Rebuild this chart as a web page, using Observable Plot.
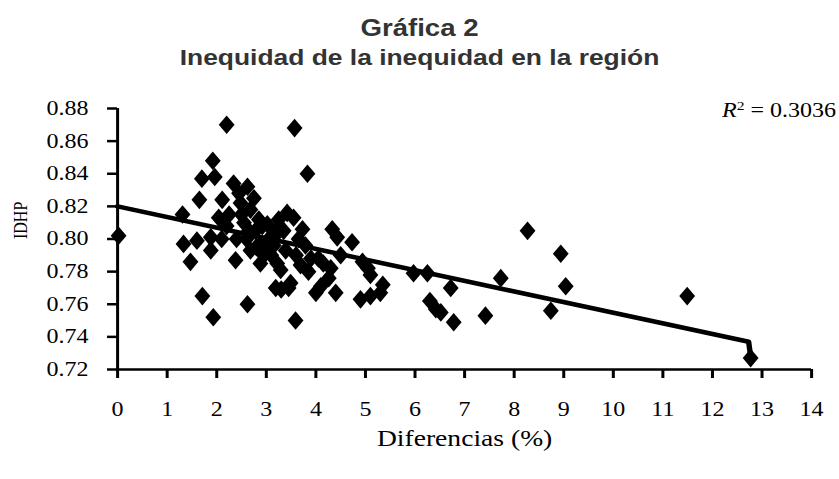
<!DOCTYPE html>
<html>
<head>
<meta charset="utf-8">
<script src="https://cdn.jsdelivr.net/npm/d3@7"></script>
<script src="https://cdn.jsdelivr.net/npm/@observablehq/plot@0.6"></script>
<style>
  html, body { margin: 0; padding: 0; background: #fff; }
  #wrap { position: relative; width: 839px; height: 479px; overflow: hidden; }
  #title { width: 839px; height: 80px; box-sizing: border-box; padding-top: 13px;
    font-family: "Liberation Sans", Arial, sans-serif; font-weight: bold; font-size: 22px;
    color: #333; text-align: center; }
  #title div { line-height: 30px; transform: scaleX(1.2); transform-origin: center; }
  #title div:first-child { font-size: 23px; }
  #chart svg, #chart svg text, #chart svg g { font-family: "Liberation Serif", "Times New Roman", serif !important; }
  #r2 { position: absolute; right: 3px; top: 98px; font-family: "Liberation Serif", serif;
    font-size: 20px; line-height: 24px; color: #000; transform: scaleX(1.2); transform-origin: right center; white-space: nowrap; }
  #r2 .sup { font-size: 13px; position: relative; top: -7px; }
</style>
</head>
<body>
<div id="wrap">
  <div id="title"><div></div><div></div></div>
  <div id="chart"></div>
  <div id="r2"></div>
</div>
<script>
// ---- data ----
const titleLine1 = "Gráfica 2";
const titleLine2 = "Inequidad de la inequidad en la región";
const xLabel = "Diferencias (%)";
const yLabel = "IDHP";
const rSquared = "0.3036";

const xTicks = [0, 1, 2, 3, 4, 5, 6, 7, 8, 9, 10, 11, 12, 13, 14];
const yTicks = [0.72, 0.74, 0.76, 0.78, 0.80, 0.82, 0.84, 0.86, 0.88];

const diffX = [
  0.02,
  1.31, 1.33, 1.47, 1.60, 1.65, 1.70, 1.71, 1.88, 1.88, 1.92, 1.93, 1.96, 2.04, 2.11, 2.20, 2.10, 2.20, 2.25,
  2.34, 2.38, 2.45, 2.48, 2.55, 2.60, 2.62, 2.62, 2.68, 2.68, 2.75, 2.78, 2.85, 2.88, 2.90, 2.95,
  2.50, 2.65, 2.80, 2.40, 3.00, 2.92, 3.20,
  3.02, 3.05, 3.10, 3.15, 3.15, 3.19, 3.22, 3.25, 3.29, 3.30, 3.35, 3.39, 3.42, 3.45, 3.49, 3.55,
  3.57, 3.59, 3.60, 3.65, 3.69, 3.73, 3.79, 3.83, 3.85, 3.90,
  4.00, 4.05, 4.10, 4.15, 4.26, 4.30, 4.33, 4.40, 4.43, 4.50, 4.73, 4.90, 4.94,
  5.05, 5.10, 5.10, 5.30, 5.35, 5.97, 6.25, 6.30, 6.42, 6.52, 6.72, 6.78,
  7.42, 7.73, 8.27, 8.74, 8.94, 9.04, 11.49, 12.77
];
const idhpY = [
  0.802,
  0.815, 0.797, 0.786, 0.799, 0.824, 0.837, 0.765, 0.801, 0.793, 0.848, 0.752, 0.838, 0.813, 0.824, 0.870, 0.800, 0.808, 0.815,
  0.834, 0.787, 0.828, 0.822, 0.810, 0.800, 0.832, 0.760, 0.818, 0.793, 0.825, 0.805, 0.812, 0.785, 0.797, 0.790,
  0.815, 0.805, 0.795, 0.800, 0.795, 0.808, 0.805,
  0.809, 0.800, 0.790, 0.801, 0.796, 0.770, 0.785, 0.812, 0.781, 0.769, 0.805, 0.793, 0.816, 0.770, 0.773, 0.813,
  0.868, 0.750, 0.790, 0.800, 0.784, 0.806, 0.796, 0.840, 0.780, 0.788,
  0.767, 0.788, 0.771, 0.785, 0.776, 0.782, 0.806, 0.767, 0.801, 0.790, 0.798, 0.763, 0.786,
  0.782, 0.778, 0.765, 0.767, 0.772, 0.779, 0.779, 0.762, 0.757, 0.755, 0.770, 0.749,
  0.753, 0.776, 0.805, 0.756, 0.791, 0.771, 0.765, 0.727
];

// trend line as drawn in the reference
const trendX = [0, 12.73, 12.77];
const trendY = [0.820, 0.737, 0.728];

// ---- build ----
const points = diffX.map((x, i) => ({x, y: idhpY[i]}));
const trend = trendX.map((x, i) => ({x, y: trendY[i]}));

const stretch = 1.2;          // the reference is horizontally stretched
const W = 839 / stretch, H = 399;
const serif = "'Liberation Serif', 'Times New Roman', serif";

const diamond = {
  draw(ctx, size) {
    const r = Math.sqrt(size / Math.PI);
    const h = r * 1.55, w = r * 1.1;
    ctx.moveTo(0, -h); ctx.lineTo(w, 0); ctx.lineTo(0, h); ctx.lineTo(-w, 0); ctx.closePath();
  }
};

const chart = Plot.plot({
  width: W, height: H,
  marginLeft: 117 / stretch, marginRight: W - 811 / stretch, marginTop: 28, marginBottom: 110,
  x: {domain: [0, 14]},
  y: {domain: [0.72, 0.88]},
  style: {fontFamily: serif, fontSize: "20px", color: "#000", background: "#fff"},
  marks: [
    Plot.axisX({ticks: xTicks, tickSize: 9, tickPadding: 23, strokeWidth: 2.5, fontSize: 20, fontFamily: serif, label: null}),
    Plot.axisY({ticks: yTicks, tickFormat: d3.format(".2f"), tickSize: 8.3, tickPadding: 16, strokeWidth: 2.5, fontSize: 20, fontFamily: serif, label: null}),
    Plot.ruleX([0], {strokeWidth: 2.5, stroke: "#000"}),
    Plot.ruleY([0.72], {strokeWidth: 2.5, stroke: "#000"}),
    Plot.line(trend, {x: "x", y: "y", stroke: "#000", strokeWidth: 4.5}),
    Plot.dot(points, {x: "x", y: "y", symbol: diamond, r: 6, fill: "#000", stroke: "none"}),
    Plot.text([xLabel], {frameAnchor: "bottom", dy: 76, fontSize: 23, fontFamily: serif, fill: "#000"}),
    Plot.text([yLabel], {frameAnchor: "left", dx: -81, rotate: -90, fontSize: 16, fontFamily: serif, fill: "#000"})
  ]
});

chart.setAttribute("viewBox", `0 0 ${W} ${H}`);
chart.setAttribute("width", 839);
chart.setAttribute("height", H);
chart.setAttribute("preserveAspectRatio", "none");
chart.style.width = "839px";
chart.style.height = H + "px";
chart.style.maxWidth = "none";
document.getElementById("chart").appendChild(chart);

document.querySelector("#title div:nth-child(1)").textContent = titleLine1;
document.querySelector("#title div:nth-child(2)").textContent = titleLine2;
document.getElementById("r2").innerHTML = `<i>R</i><span class="sup">2</span> = ${rSquared}`;
</script>
</body>
</html>
